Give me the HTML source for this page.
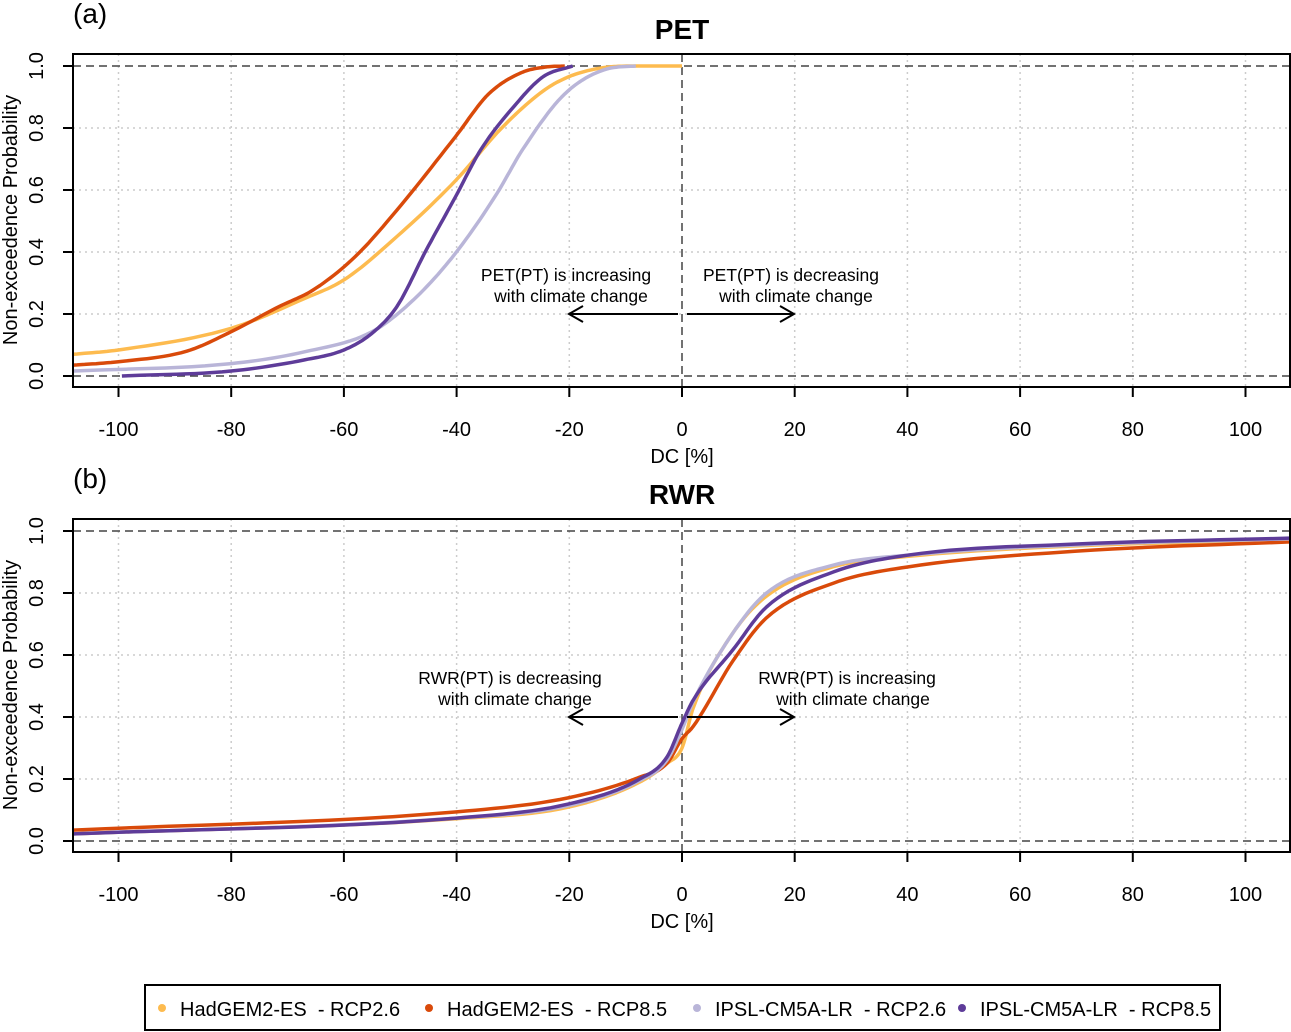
<!DOCTYPE html>
<html><head><meta charset="utf-8"><style>
body{margin:0;background:#fff}
svg{display:block;font-family:"Liberation Sans",Arial,sans-serif}
text{white-space:pre}
</style></head><body>
<svg id="chart" width="1291" height="1032" viewBox="0 0 1291 1032">
<defs>
<clipPath id="clipA"><rect x="73" y="54" width="1217" height="333"/></clipPath>
<clipPath id="clipB"><rect x="73" y="519" width="1217" height="333"/></clipPath>
</defs>
<g id="root"></g>
</svg>
<script>
const xTicks=[-100,-80,-60,-40,-20,0,20,40,60,80,100];
const yTicks=[0,0.2,0.4,0.6,0.8,1.0];
const yTickLabels=["0.0","0.2","0.4","0.6","0.8","1.0"];
const seriesNames=["HadGEM2-ES  - RCP2.6","HadGEM2-ES  - RCP8.5","IPSL-CM5A-LR  - RCP2.6","IPSL-CM5A-LR  - RCP8.5"];
const seriesColors=["#fdbb4f","#d94a0a","#b9b5d8","#5e3c99"];
// Panel a (PET)
const petX0=[-108,-100,-80,-67,-60,-50.6,-40.2,-32,-24.6,-20,-13.4,-8,0];
const petY0=[0.07,0.084,0.154,0.25,0.31,0.45,0.63,0.80,0.92,0.966,0.996,1.0,1.0];
const petX1=[-108,-100,-87.9,-80,-71.5,-65.5,-58,-50.6,-40.2,-34.3,-28.3,-24,-20.8];
const petY1=[0.035,0.046,0.08,0.143,0.224,0.277,0.385,0.535,0.772,0.91,0.98,0.997,1.0];
const petX2=[-108,-80,-67,-55,-47.7,-40.2,-32.8,-28.3,-20.8,-13.4,-8.2];
const petY2=[0.016,0.04,0.078,0.143,0.245,0.396,0.59,0.73,0.91,0.99,1.0];
const petX3=[-99.4,-80,-67,-60,-55,-50.6,-45.4,-40.2,-35.7,-29.8,-24.6,-19.4];
const petY3=[0.0,0.016,0.052,0.084,0.138,0.224,0.406,0.578,0.73,0.87,0.966,1.0];
// Panel b (RWR)
const rwrX0=[-108,-40,-20,-7.5,-2.7,0,2,9,15,26.9,40,70,108];
const rwrY0=[0.023,0.072,0.11,0.19,0.25,0.30,0.43,0.67,0.79,0.885,0.918,0.952,0.97];
const rwrX1=[-108,-40,-20,-7.5,-2.7,0,2,9,15,26.9,40,70,108];
const rwrY1=[0.035,0.094,0.14,0.206,0.25,0.33,0.37,0.58,0.72,0.832,0.884,0.935,0.965];
const rwrX2=[-108,-40,-20,-7.5,-2.7,0,2,9,15,26.9,40,70,108];
const rwrY2=[0.023,0.074,0.115,0.195,0.26,0.36,0.45,0.67,0.80,0.89,0.922,0.955,0.975];
const rwrX3=[-108,-40,-20,-7.5,-2.7,0,2,9,15,26.9,40,70,108];
const rwrY3=[0.023,0.074,0.12,0.2,0.27,0.38,0.455,0.616,0.755,0.868,0.922,0.958,0.977];

const NS="http://www.w3.org/2000/svg";
const root=document.getElementById('root');
function mk(tag,attrs,parent){const e=document.createElementNS(NS,tag);for(const k in attrs)e.setAttribute(k,attrs[k]);(parent||root).appendChild(e);return e;}
function xs(v){return 682+5.635*v;}
// monotone cubic interpolation -> sampled points
function smooth(X,Y){
  const n=X.length,d=[],m=[];
  for(let i=0;i<n-1;i++)d.push((Y[i+1]-Y[i])/(X[i+1]-X[i]));
  m[0]=d[0];m[n-1]=d[n-2];
  for(let i=1;i<n-1;i++)m[i]=(d[i-1]*d[i]<=0)?0:(d[i-1]+d[i])/2;
  for(let i=0;i<n-1;i++){if(d[i]===0){m[i]=0;m[i+1]=0;continue;}
    const a=m[i]/d[i],b=m[i+1]/d[i],s=a*a+b*b;if(s>9){const t=3/Math.sqrt(s);m[i]=t*a*d[i];m[i+1]=t*b*d[i];}}
  const out=[];
  for(let i=0;i<n-1;i++){const h=X[i+1]-X[i];
    for(let k=0;k<12;k++){const t=k/12,t2=t*t,t3=t2*t;
      out.push([X[i]+t*h,(2*t3-3*t2+1)*Y[i]+(t3-2*t2+t)*h*m[i]+(-2*t3+3*t2)*Y[i+1]+(t3-t2)*h*m[i+1]]);}}
  out.push([X[n-1],Y[n-1]]);return out;
}
function panel(top,label,title,series,arrowTexts){
  const y0=top+322, ys=v=>y0-310*v;
  const g=mk('g',{});
  
  
  xTicks.forEach(t=>{if(t!==0){const l=mk('line',{x1:xs(t),x2:xs(t),y1:top,y2:top+333,stroke:'#ccc','stroke-dasharray':'2,4','stroke-width':1.5},g);
    }});
  yTicks.forEach(t=>{const l=mk('line',{x1:73,x2:1290,y1:ys(t),y2:ys(t),stroke:(t===0||t===1)?'#444':'#ccc','stroke-dasharray':(t===0||t===1)?'8,5':'2,4','stroke-width':1.5},g);
    });
  const z=mk('line',{x1:xs(0),x2:xs(0),y1:top,y2:top+333,stroke:'#444','stroke-dasharray':'8,5','stroke-width':1.5},g);
  
  const cg=mk('g',{'clip-path':'url(#clip'+label+')'},g);
  series.forEach((s,i)=>{
    const pts=smooth(s[0],s[1]);
    const d=pts.map((q,j)=>(j?'L':'M')+xs(q[0]).toFixed(1)+','+ys(q[1]).toFixed(1)).join('');
    const p=mk('path',{d:d,fill:'none',stroke:seriesColors[i],'stroke-width':3.5,'stroke-linejoin':'round'},cg);
    
  });
  const b=mk('rect',{x:73,y:top,width:1217,height:333,fill:'none',stroke:'#000','stroke-width':2},g);
  
  xTicks.forEach(t=>{mk('line',{x1:xs(t),x2:xs(t),y1:top+333,y2:top+343,stroke:'#000','stroke-width':2},g);
    const tx=mk('text',{x:xs(t),y:top+382,'font-size':20,'text-anchor':'middle'},g);tx.textContent=t;
    });
  yTicks.forEach((t,i)=>{mk('line',{x1:63,x2:73,y1:ys(t),y2:ys(t),stroke:'#000','stroke-width':2},g);
    const tx=mk('text',{x:0,y:0,'font-size':20,'text-anchor':'middle',transform:`translate(43,${ys(t)}) rotate(-90)`},g);tx.textContent=yTickLabels[i];
    });
  const xl=mk('text',{x:682,y:top+409,'font-size':20,'text-anchor':'middle'},g);xl.textContent='DC [%]';
  
  const yl=mk('text',{x:0,y:0,'font-size':20,'text-anchor':'middle',transform:`translate(17,${top+166}) rotate(-90)`},g);yl.textContent='Non-exceedence Probability';
  
  const tt=mk('text',{x:682,y:top-15,'font-size':28,'font-weight':'bold','text-anchor':'middle'},g);tt.textContent=title;
  
  const lb=mk('text',{x:73,y:top-31,'font-size':28},g);lb.textContent='('+label.toLowerCase()+')';
  
  const ay=arrowTexts.ay;
  mk('path',{d:`M678,${ay}H569M583,${ay-8}L569,${ay}L583,${ay+8}M687,${ay}H794M780,${ay-8}L794,${ay}L780,${ay+8}`,fill:'none',stroke:'#000','stroke-width':2},g);
  arrowTexts.t.forEach(a=>{const tx=mk('text',{x:a[0],y:a[1],'font-size':17.5,'text-anchor':'middle'},g);tx.textContent=a[2];
    });
}
panel(54,'A','PET',[[petX0,petY0],[petX1,petY1],[petX2,petY2],[petX3,petY3]],
  {ay:314,t:[[566,281,'PET(PT) is increasing'],[571,302,'with climate change'],[791,281,'PET(PT) is decreasing'],[796,302,'with climate change']]});
panel(519,'B','RWR',[[rwrX0,rwrY0],[rwrX1,rwrY1],[rwrX2,rwrY2],[rwrX3,rwrY3]],
  {ay:717,t:[[510,684,'RWR(PT) is decreasing'],[515,705,'with climate change'],[847,684,'RWR(PT) is increasing'],[853,705,'with climate change']]});
const lg=mk('g',{});


mk('rect',{x:145,y:985,width:1075,height:45,fill:'#fff',stroke:'#000','stroke-width':2},lg);
const lx=[162,429,697,962];
seriesNames.forEach((n,i)=>{
  const e=mk('g',{},lg);
  
  
  mk('circle',{cx:lx[i],cy:1008,r:4,fill:seriesColors[i]},e);
  const t=mk('text',{x:lx[i]+18,y:1016,'font-size':20},e);t.textContent=n;
});
</script>
</body></html>
